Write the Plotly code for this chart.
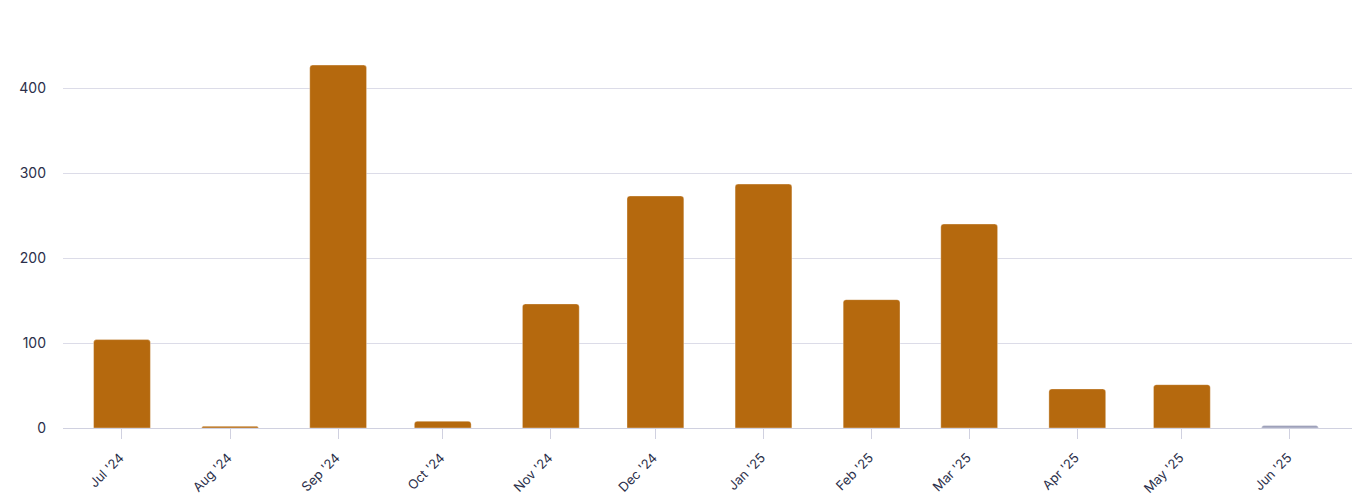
import plotly.graph_objects as go

months = ["2024-07-01", "2024-08-01", "2024-09-01", "2024-10-01", "2024-11-01", "2024-12-01",
          "2025-01-01", "2025-02-01", "2025-03-01", "2025-04-01", "2025-05-01", "2025-06-01"]
values = [104, 2, 427, 8, 146, 273, 287, 151, 240, 46, 51, 3]
bar_colors = ["#B5690E"] * 11 + ["#9EA1BA"]
y_ticks = [0, 100, 200, 300, 400]

fig = go.Figure(go.Bar(
    x=months, y=values,
    width=[16.3 * 86400000] * len(months),
    marker=dict(color=bar_colors, line=dict(color="rgba(255,255,255,0.35)", width=1), cornerradius=3),
    hoverinfo="x+y",
))

fig.update_layout(
    width=1352, height=503,
    margin=dict(l=63, r=0, t=20, b=75, autoexpand=False),
    paper_bgcolor="white", plot_bgcolor="white",
    font=dict(family="Inter, sans-serif", size=13, color="#2B2F4A"),
    showlegend=False,
    xaxis=dict(
        type="date", automargin=False,
        range=["2024-06-14 02:00", "2025-06-18 19:00"],
        tickvals=months, tickformat="%b '%y", tickangle=-45,
        ticks="outside", ticklen=10, tickcolor="#D0D1E0", tickwidth=1,
        ticklabelshift=-2, ticklabelstandoff=6,
        showgrid=False, showline=True, linecolor="#D0D1E0", linewidth=1,
        zeroline=False, tickfont=dict(size=13, color="#2B2F4A"),
    ),
    yaxis=dict(
        range=[0, 480], tickvals=y_ticks, automargin=False,
        showgrid=True, gridcolor="#DCDCE8", gridwidth=1,
        zeroline=False, showline=False, ticks="",
        ticklabelstandoff=16, tickfont=dict(size=14, color="#2B2F4A"),
    ),
)

fig.write_html(
    "out.html",
    config={"displayModeBar": False},
    post_script="document.body.style.margin='0';document.body.style.overflow='hidden';",
)
